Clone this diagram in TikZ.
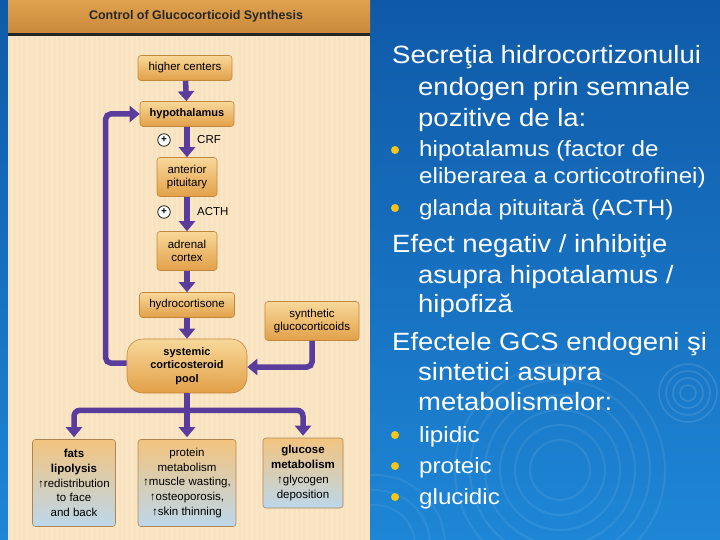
\documentclass[tikz,border=0pt]{standalone}
\usepackage{fontspec}
\setmainfont{Liberation Sans}
\newfontfamily\slidefont[FakeStretch=1.1]{Liberation Sans}
\usetikzlibrary{arrows.meta,positioning,calc}
\definecolor{slidetop}{HTML}{0F5AA8}
\definecolor{slidebot}{HTML}{1E86D6}
\definecolor{panelbg}{HTML}{F9E2BE}
\definecolor{bandtop}{HTML}{DFA24E}
\definecolor{bandbot}{HTML}{C9883A}
\definecolor{arrowpurple}{HTML}{5A3C9C}
\definecolor{boxtop}{HTML}{F8D89A}
\definecolor{boxbot}{HTML}{E2A048}
\definecolor{boxedge}{HTML}{C2873E}
\definecolor{efftop}{HTML}{F3C47E}
\definecolor{effbot}{HTML}{BCD7EC}
\definecolor{bulletyellow}{HTML}{F5C518}

\begin{document}
\begin{tikzpicture}[x=1pt,y=-1pt,
  flow/.style={draw=arrowpurple, line width=5.5pt, -{Triangle[width=16pt,length=10pt]}},
  trunk/.style={draw=arrowpurple, line width=5.5pt},
  stepbox/.style={draw=boxedge, line width=.6pt, rounded corners=3pt, top color=boxtop, bottom color=boxbot, align=center, inner sep=2pt, font=\fontsize{11.5}{13.5}\selectfont},
  effect/.style={draw=boxedge!70!gray, line width=.6pt, rounded corners=3pt, top color=efftop, bottom color=effbot, align=center, inner sep=2pt, font=\fontsize{11.5}{14.7}\selectfont},
  plus/.style={circle, draw=black!85, line width=.8pt, fill=white, inner sep=0pt, minimum size=12.5pt, font=\fontsize{10}{10}\selectfont\bfseries},
  hormone/.style={anchor=west, inner sep=0pt, font=\fontsize{11.5}{13}\selectfont},
  slidetext/.style={anchor=base west, text=white, inner sep=0pt, font=\slidefont\fontsize{25}{30}\selectfont},
  subtext/.style={anchor=base west, text=white, inner sep=0pt, font=\slidefont\fontsize{22}{26}\selectfont},
  dot/.style={circle, fill=bulletyellow, inner sep=0pt, minimum size=8pt}
]
\useasboundingbox (0,0) rectangle (720,540);
% slide background
\shade[top color=slidetop, bottom color=slidebot] (0,0) rectangle (720,540);
\begin{scope}
  \clip (370,0) rectangle (720,540);
  \foreach \r in {8,15,22,29} \draw[white, opacity=.12, line width=1.5pt] (688,393) circle (\r);
  \foreach \r in {30,45,60,75,90,105} \draw[white, opacity=.08, line width=2pt] (560,470) circle (\r);
  \foreach \r in {40,55,70} \draw[white, opacity=.07, line width=2pt] (375,545) circle (\r);
\end{scope}
% scanned panel
\fill[panelbg] (8,0) rectangle (370,540);
\foreach \sx in {12,17,...,368} \draw[white, opacity=.18, line width=1.2pt] (\sx,36) -- (\sx,540);
\shade[top color=bandtop, bottom color=bandbot] (8,0) rectangle (370,34);
\draw[line width=2.5pt, black!85] (8,34.5) -- (370,34.5);
\node[font=\bfseries\fontsize{12.5}{14}\selectfont, text=black!85] (title) at (196,16) {Control of Glucocorticoid Synthesis};

% flow chart
\node[stepbox, minimum width=94, minimum height=25] (hc) at (185,68) {higher centers};
\node[stepbox, minimum width=94, minimum height=25, font=\bfseries\fontsize{11}{13}\selectfont] (hypo) at (187,114) {hypothalamus};
\node[stepbox, minimum width=60, minimum height=39] (ant) at (187,177) {anterior\\pituitary};
\node[stepbox, minimum width=60, minimum height=39] (adr) at (187,251) {adrenal\\cortex};
\node[stepbox, minimum width=95, minimum height=25] (hydro) at (187,305) {hydrocortisone};
\node[stepbox, minimum width=94, minimum height=39] (synth) at (312,321) {synthetic\\glucocorticoids};
\node[stepbox, minimum width=120, minimum height=54, rounded corners=16pt, font=\bfseries\fontsize{11}{13.5}\selectfont] (pool) at (187,366) {systemic\\corticosteroid\\pool};
\node[plus] (plus1) at (164,140) {+};
\node[hormone] (crf) at (197,140) {CRF};
\node[plus] (plus2) at (164,212) {+};
\node[hormone] (acth) at (197,212) {ACTH};

\node[effect, minimum width=83, minimum height=87] (fats) at (74,483) {\textbf{fats}\\\textbf{lipolysis}\\↑redistribution\\to face\\and back};
\node[effect, minimum width=98, minimum height=87] (prot) at (187,483) {protein\\metabolism\\↑muscle wasting,\\↑osteoporosis,\\↑skin thinning};
\node[effect, minimum width=80, minimum height=70] (gluc) at (303,473) {\textbf{glucose}\\\textbf{metabolism}\\↑glycogen\\deposition};

\draw[flow] (hc) -- (hypo);
\draw[flow] (hypo) -- (ant);
\draw[flow] (ant) -- (adr);
\draw[flow] (adr) -- (hydro);
\draw[flow] (hydro) -- (pool);
\draw[flow, rounded corners=5pt] (synth.south) |- ([yshift=-1pt]pool.east);
\draw[flow, rounded corners=5pt] ([yshift=3pt]pool.west) -- ++(-21,0) |- (hypo.west);
\draw[trunk] (pool.south) -- ++(0,17) coordinate (split);
\draw[flow, rounded corners=6pt, shorten >=2pt] (split) -| (fats.north);
\draw[flow, shorten >=2pt] (split) -- (prot.north);
\draw[flow, rounded corners=6pt, shorten >=2pt] (split) -| (gluc.north);

% slide text
\node[slidetext] (l1) at (392,64) {Secreţia hidrocortizonului};
\node[slidetext] (l2) at (418,96) {endogen prin semnale};
\node[slidetext] (l3) at (418,127) {pozitive de la:};
\node[dot] (d1) at (395,150) {};
\node[subtext] (l4) at (419,157) {hipotalamus (factor de};
\node[subtext] (l5) at (419,184) {eliberarea a corticotrofinei)};
\node[dot] (d2) at (395,208) {};
\node[subtext] (l6) at (419,215) {glanda pituitară (ACTH)};
\node[slidetext] (l7) at (392,252) {Efect negativ / inhibiţie};
\node[slidetext] (l8) at (418,283) {asupra hipotalamus /};
\node[slidetext] (l9) at (418,312) {hipofiză};
\node[slidetext] (l10) at (392,350) {Efectele GCS endogeni şi};
\node[slidetext] (l11) at (418,380) {sintetici asupra};
\node[slidetext] (l12) at (418,410) {metabolismelor:};
\node[dot] (d3) at (395,435) {};
\node[subtext] (l13) at (419,442) {lipidic};
\node[dot] (d4) at (395,466) {};
\node[subtext] (l14) at (419,473) {proteic};
\node[dot] (d5) at (395,497) {};
\node[subtext] (l15) at (419,504) {glucidic};
\end{tikzpicture}
\end{document}
